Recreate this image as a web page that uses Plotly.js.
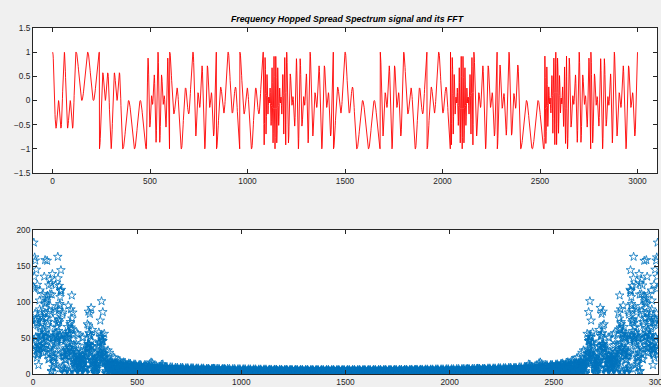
<!DOCTYPE html>
<html>
<head>
<meta charset="utf-8">
<script src="https://cdn.plot.ly/plotly-3.0.1.min.js"></script>
<style>
  html, body { margin: 0; padding: 0; background: #f0f0f0; }
  #chart { width: 661px; height: 387px; }
</style>
</head>
<body>
<div id="chart"></div>
<script>
// ---- data ----
// 25 data bits (one per hop), each spread over 120 samples
const bits = [1, 1, -1, -1, -1, 1, 1, -1, 1, 1, 1, 1, -1, -1, 1, 1, -1, 1, 1, -1, -1, -1, -1, 1, 1];
// hop carrier chosen for each bit, given as samples per carrier cycle
const hopPeriods = [40, 120, 40, 120, 20, 60, 30, 60, 60, 10, 20, 30, 60, 120, 30, 60, 60, 10, 30, 30, 120, 10, 20, 20, 30];
const samplesPerBit = 120;
const titleText = 'Frequency Hopped Spread Spectrum signal and its FFT';
const topXTicks = [0, 500, 1000, 1500, 2000, 2500, 3000];
const topYTicks = [-1.5, -1, -0.5, 0, 0.5, 1, 1.5];
const botXTicks = [0, 500, 1000, 1500, 2000, 2500, 3000];
const botYTicks = [0, 50, 100, 150, 200];

// ---- build the frequency-hopped BPSK signal from the bits and hops ----
const sampleIdx = [];
const fhss = [];
for (let k = 0; k < bits.length; k++) {
  const N = hopPeriods[k];
  for (let j = 0; j < samplesPerBit; j++) {
    const carrier = Math.cos(2 * Math.PI * j / (samplesPerBit - 1));
    const hop = Math.cos(2 * Math.PI * (j % N) / (N - 1));
    fhss.push(bits[k] * carrier * hop);
    sampleIdx.push(k * samplesPerBit + j + 1);
  }
}
// ---- |FFT| of that signal ----
const L = fhss.length;
const cosT = new Float64Array(L), sinT = new Float64Array(L);
for (let i = 0; i < L; i++) { cosT[i] = Math.cos(2 * Math.PI * i / L); sinT[i] = Math.sin(2 * Math.PI * i / L); }
const fftMag = [];
for (let k = 0; k < L; k++) {
  let re = 0, im = 0, idx = 0;
  for (let n = 0; n < L; n++) {
    re += fhss[n] * cosT[idx];
    im -= fhss[n] * sinT[idx];
    idx += k; if (idx >= L) idx -= L;
  }
  fftMag.push(Math.sqrt(re * re + im * im));
}

const axisColor = '#262626';
const font = { family: 'Liberation Sans, Arial, sans-serif', size: 8.3, color: axisColor };
function axis(extra) {
  return Object.assign({
    showline: true, linecolor: axisColor, linewidth: 1, mirror: 'ticks',
    ticks: 'inside', ticklen: 4, tickwidth: 1, tickcolor: axisColor,
    showgrid: false, zeroline: false, tickfont: font, ticklabeloverflow: 'allow'
  }, extra);
}

const traces = [
  { x: sampleIdx, y: fhss, type: 'scatter', mode: 'lines', xaxis: 'x', yaxis: 'y',
    line: { color: '#ff0000', width: 0.9 }, hoverinfo: 'skip' },
  { x: sampleIdx, y: fftMag, type: 'scatter', mode: 'markers', xaxis: 'x2', yaxis: 'y2',
    marker: { symbol: 'star-open', size: 6.5, color: '#0072bd', line: { width: 0.8, color: '#0072bd' } },
    hoverinfo: 'skip' }
];

const layout = {
  width: 661, height: 387,
  margin: { l: 0, r: 0, t: 0, b: 0 },
  paper_bgcolor: '#f0f0f0', plot_bgcolor: '#ffffff',
  showlegend: false,
  title: { text: '<b><i>' + titleText + '</i></b>', x: 347 / 661, xanchor: 'center', xref: 'paper',
           y: 1 - 19 / 387, yanchor: 'middle', yref: 'paper',
           font: { family: 'Liberation Sans, Arial, sans-serif', size: 8.8, color: '#000000' } },
  xaxis: axis({ domain: [33 / 661, 657 / 661], range: [-100, 3100], tickvals: topXTicks, anchor: 'y' }),
  yaxis: axis({ domain: [1 - 173 / 387, 1 - 28 / 387], range: [-1.5, 1.5], tickvals: topYTicks, anchor: 'x' }),
  xaxis2: axis({ domain: [33 / 661, 658 / 661], range: [0, 3000], tickvals: botXTicks, anchor: 'y2' }),
  yaxis2: axis({ domain: [1 - 374 / 387, 1 - 230 / 387], range: [0, 200], tickvals: botYTicks, anchor: 'x2' })
};

Plotly.newPlot('chart', traces, layout, { staticPlot: true, displayModeBar: false });
</script>
</body>
</html>
